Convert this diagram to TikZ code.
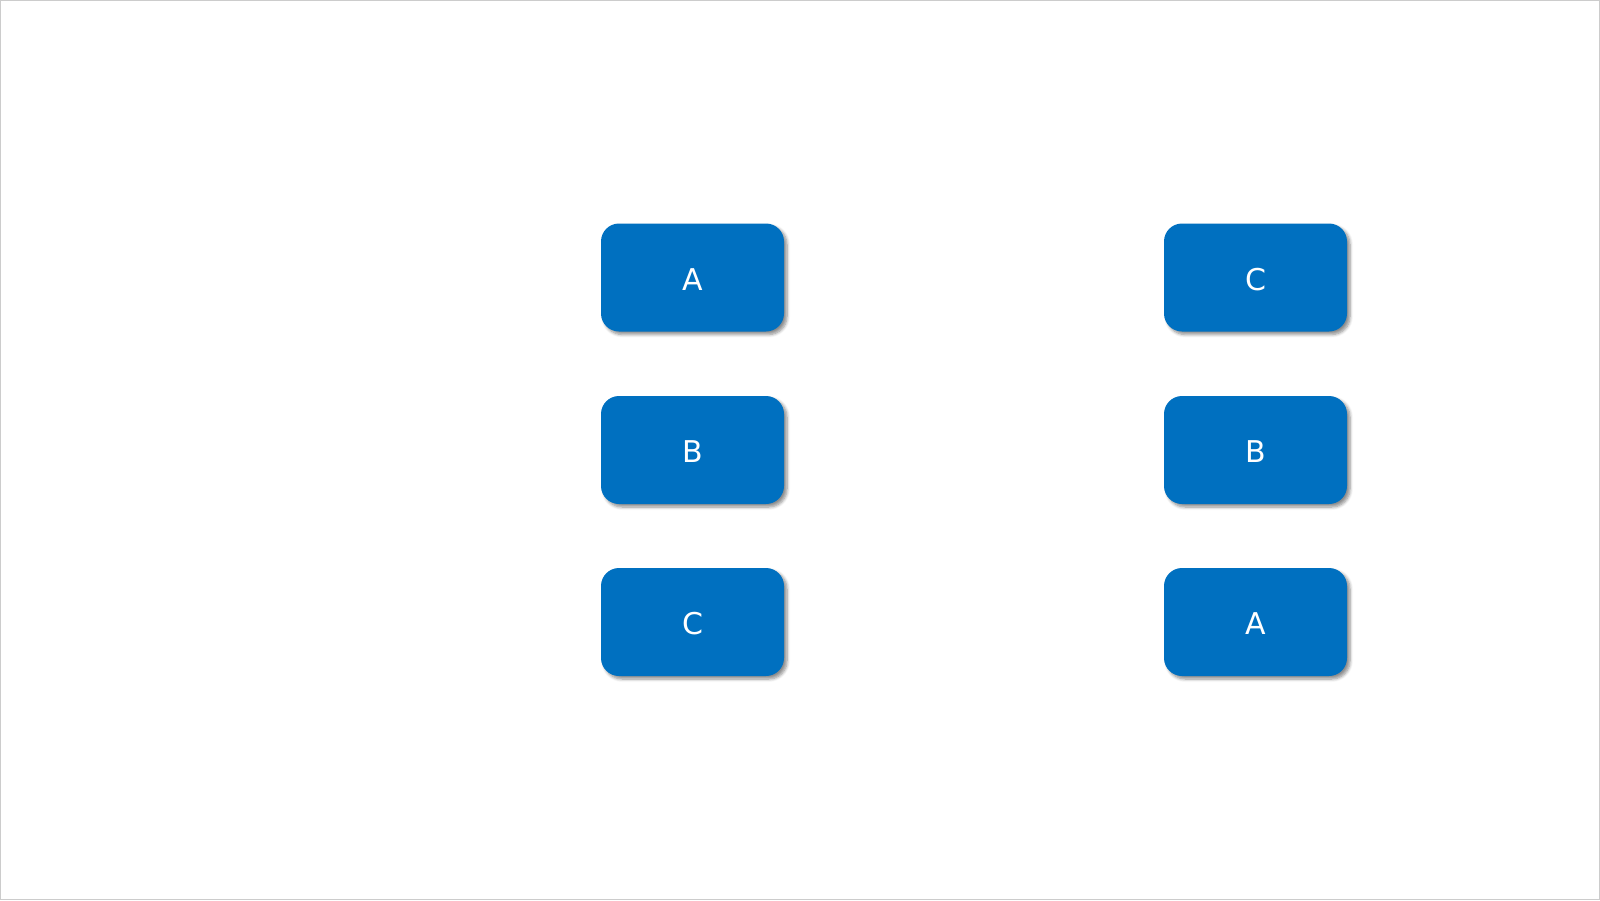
\documentclass[tikz,border=0pt]{standalone}
\usepackage{fontspec}
\setmainfont{DejaVu Sans}
\usetikzlibrary{shadows.blur}
\definecolor{boxblue}{HTML}{0070C0}
\tikzset{
  bluebox/.style={fill=boxblue, draw=none, rounded corners=18pt,
    minimum width=183pt, minimum height=108pt, inner sep=0pt,
    text height=25pt, text depth=0pt,
    text=white, font=\fontsize{30}{36}\selectfont,
    blur shadow={shadow xshift=3pt, shadow yshift=-3pt, shadow blur steps=6,
      shadow blur radius=3pt, shadow opacity=45}},
}
\begin{document}
\begin{tikzpicture}[x=1pt,y=-1pt]
\useasboundingbox (0,0) rectangle (1600,900);
\draw[black!20, line width=1pt] (0.5,0.5) rectangle (1599.5,899.5);
\node[bluebox] (la) at (692.5,277.5) {A};
\node[bluebox] (lb) at (692.5,450) {B};
\node[bluebox] (lc) at (692.5,622) {C};
\node[bluebox] (rc) at (1255.5,277.5) {C};
\node[bluebox] (rb) at (1255.5,450) {B};
\node[bluebox] (ra) at (1255.5,622) {A};
\end{tikzpicture}
\end{document}
